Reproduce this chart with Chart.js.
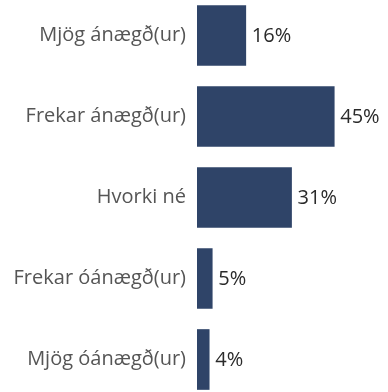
<!DOCTYPE html>
<html>
<head>
<meta charset="utf-8">
<script src="https://cdn.jsdelivr.net/npm/chart.js@4/dist/chart.umd.min.js"></script>
<style>
  html, body { margin: 0; padding: 0; background: #fff; overflow: hidden; }
  #wrap { position: absolute; left: 0; top: -5px; width: 388px; height: 405px; }
</style>
</head>
<body>
<div id="wrap"><canvas id="satisfactionChart"></canvas></div>
<script>
const categories = [
  "Mjög ánægð(ur)",
  "Frekar ánægð(ur)",
  "Hvorki né",
  "Frekar óánægð(ur)",
  "Mjög óánægð(ur)"
];
const percentages = [16, 45, 31, 5, 4];

const FONT = "'Source Sans Pro', 'Open Sans', sans-serif";

// writes the percentage just past the end of each bar
const valueLabels = {
  id: "valueLabels",
  afterDatasetsDraw(chart) {
    const ctx = chart.ctx;
    const meta = chart.getDatasetMeta(0);
    ctx.save();
    ctx.font = "20px " + FONT;
    ctx.fillStyle = "#2a2a2a";
    ctx.textAlign = "left";
    ctx.textBaseline = "middle";
    meta.data.forEach((bar, i) => {
      ctx.fillText(percentages[i] + "%", bar.x + 6, bar.y + 1);
    });
    ctx.restore();
  }
};

const ctx = document.getElementById("satisfactionChart").getContext("2d");
new Chart(ctx, {
  type: "bar",
  data: {
    labels: categories,
    datasets: [
      {
        data: percentages,
        backgroundColor: "#2f4468",
        borderWidth: 0,
        barThickness: 60
      }
    ]
  },
  options: {
    indexAxis: "y",
    responsive: true,
    maintainAspectRatio: false,
    animation: false,
    layout: { padding: { left: 0, right: 8, top: 0, bottom: 0 } },
    plugins: {
      legend: { display: false },
      tooltip: { enabled: false }
    },
    scales: {
      x: {
        min: 0,
        max: 60,
        display: false
      },
      y: {
        grid: { display: false },
        border: { display: false },
        ticks: {
          color: "#555",
          padding: 3,
          font: { family: FONT, size: 20 }
        },
        afterFit(scale) {
          scale.width = 197;
          scale.paddingTop = 0;
          scale.paddingBottom = 0;
        }
      }
    }
  },
  plugins: [valueLabels]
});
</script>
</body>
</html>
